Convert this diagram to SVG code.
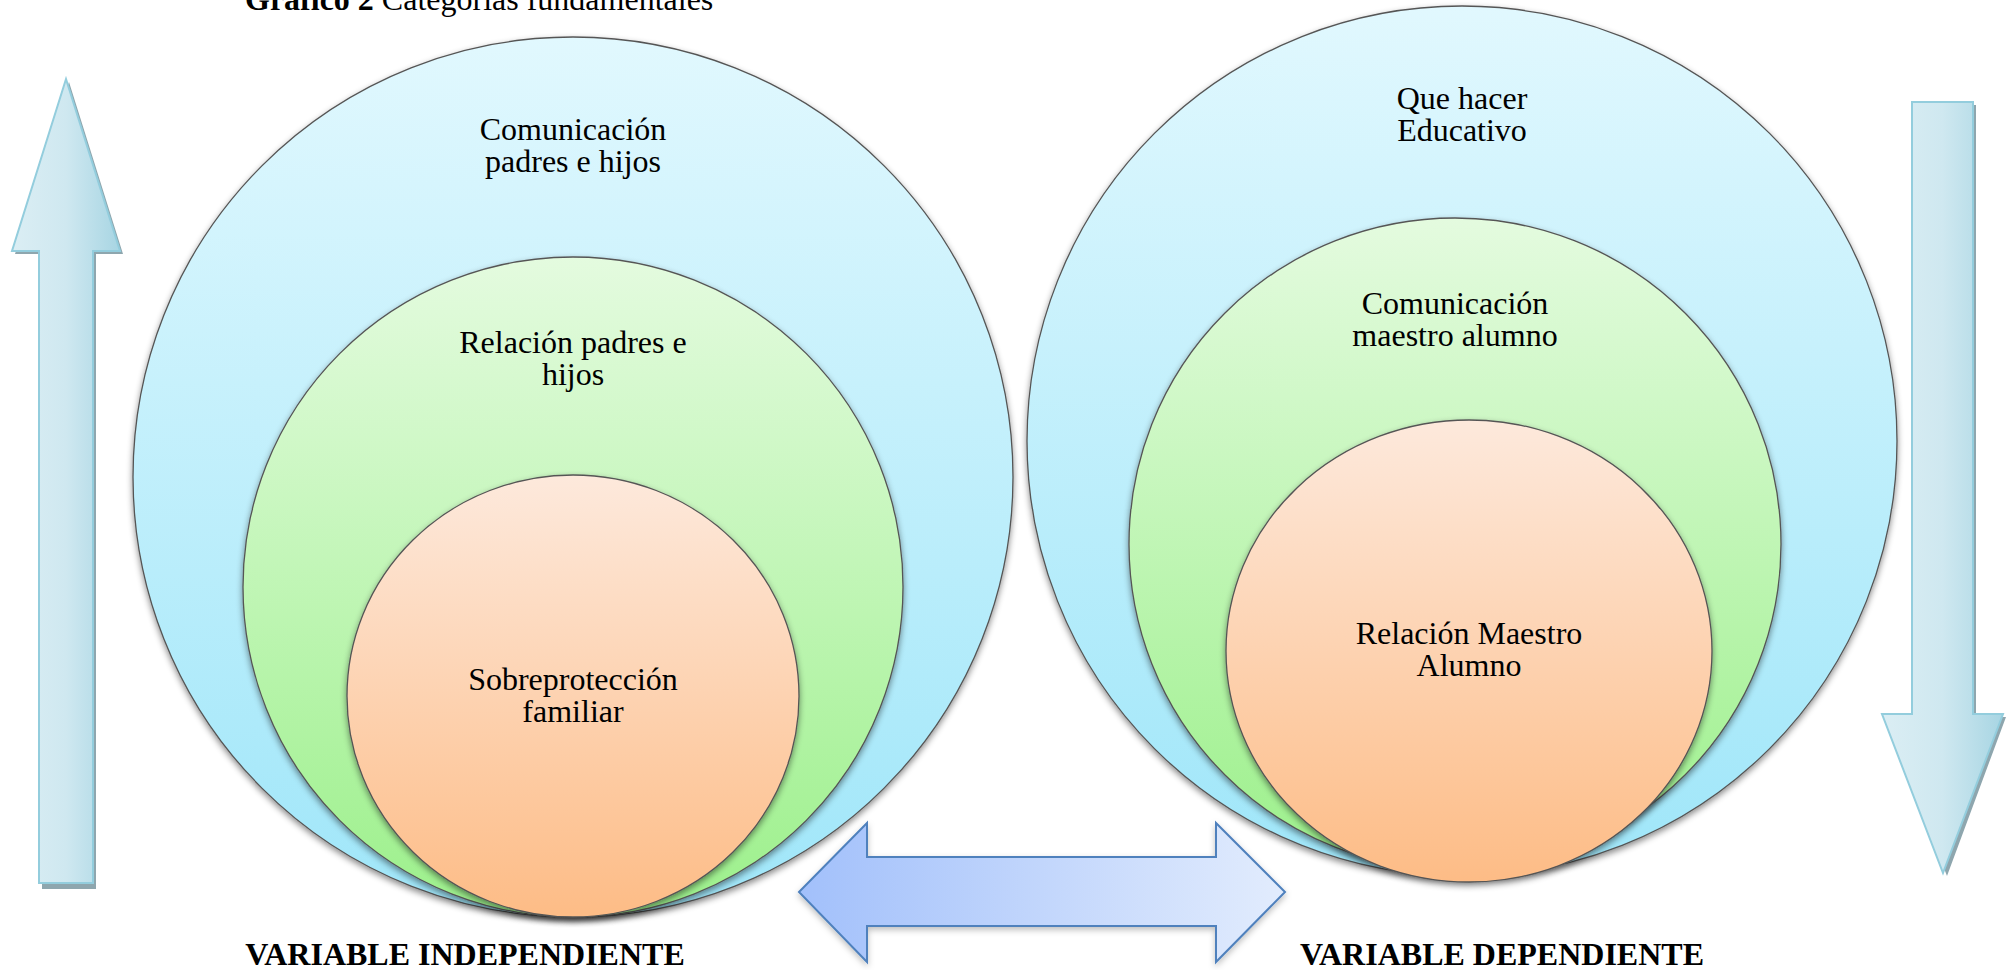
<svg xmlns="http://www.w3.org/2000/svg" width="2007" height="970" viewBox="0 0 2007 970">
<defs>
<linearGradient id="gBlue" x1="0" y1="0" x2="0" y2="1">
<stop offset="0" stop-color="#e1f8fe"/><stop offset="1" stop-color="#9fe6f9"/>
</linearGradient>
<linearGradient id="gGreen" x1="0" y1="0" x2="0" y2="1">
<stop offset="0" stop-color="#e4fbdf"/><stop offset="1" stop-color="#9cf08b"/>
</linearGradient>
<linearGradient id="gOrange" x1="0" y1="0" x2="0" y2="1">
<stop offset="0" stop-color="#fde9dc"/><stop offset="1" stop-color="#fdbc86"/>
</linearGradient>
<linearGradient id="gUp" x1="0" y1="0" x2="1" y2="0">
<stop offset="0" stop-color="#dbeef4"/><stop offset="0.5" stop-color="#cfe8f0"/><stop offset="1" stop-color="#a7d5e3"/>
</linearGradient>
<linearGradient id="gDown" x1="0" y1="0" x2="1" y2="0">
<stop offset="0" stop-color="#dbeef4"/><stop offset="0.5" stop-color="#cfe8f0"/><stop offset="1" stop-color="#a7d5e3"/>
</linearGradient>
<linearGradient id="gDouble" x1="0" y1="0" x2="1" y2="0">
<stop offset="0" stop-color="#a2c0fb"/><stop offset="1" stop-color="#e2ecfd"/>
</linearGradient>
<filter id="shadow" x="-10%" y="-10%" width="120%" height="125%">
<feDropShadow dx="0" dy="3" stdDeviation="3" flood-color="#000" flood-opacity="0.45"/>
</filter>
<filter id="softShadow" x="-10%" y="-10%" width="120%" height="130%">
<feDropShadow dx="0" dy="3" stdDeviation="3" flood-color="#000" flood-opacity="0.25"/>
</filter>
</defs>
<style>
.lbl{font-family:"Liberation Serif","Times New Roman",serif;font-size:32px;fill:#000;text-anchor:middle}
.var{font-family:"Liberation Serif","Times New Roman",serif;font-size:32px;font-weight:bold;fill:#000;text-anchor:middle}
.title{font-family:"Liberation Serif","Times New Roman",serif;font-size:32px;fill:#000}
.circ{stroke:#555;stroke-width:1.3;filter:url(#shadow)}
.side{stroke:#93cddd;stroke-width:2}
.sideShadow{fill:#8ea6ae}
</style>
<rect width="2007" height="970" fill="#fff"/>
<text class="title" x="245" y="10"><tspan font-weight="bold">Gráfico 2</tspan> Categorías fundamentales</text>

<g id="arrow-up">
<polygon class="sideShadow" points="69,82 123,254 96,254 96,889 42,889 42,254 15,254"/>
<polygon class="side" fill="url(#gUp)" points="66,79 120,251 93,251 93,883 39,883 39,251 12,251"/>
</g>
<g id="arrow-down">
<polygon class="sideShadow" points="1915,105 1976,105 1976,717 2006,717 1947,876 1885,717 1915,717"/>
<polygon class="side" fill="url(#gDown)" points="1912,102 1973,102 1973,714 2003,714 1943,873 1882,714 1912,714"/>
</g>

<g id="left-outer"><circle class="circ" cx="573" cy="477" r="440" fill="url(#gBlue)"/></g>
<g id="left-middle"><circle class="circ" cx="573" cy="587" r="330" fill="url(#gGreen)"/></g>
<g id="left-inner"><ellipse class="circ" cx="573" cy="696" rx="226" ry="221" fill="url(#gOrange)"/></g>

<g id="right-outer"><circle class="circ" cx="1462" cy="441" r="435" fill="url(#gBlue)"/></g>
<g id="right-middle"><circle class="circ" cx="1455" cy="544" r="326" fill="url(#gGreen)"/></g>
<g id="right-inner"><ellipse class="circ" cx="1469" cy="651" rx="243" ry="231" fill="url(#gOrange)"/></g>

<g id="connectors">
<polygon fill="url(#gDouble)" stroke="#4f81bd" stroke-width="2" filter="url(#softShadow)" points="799,892 867,823 867,857 1216,857 1216,823 1285,892 1216,962 1216,926 867,926 867,962"/>
</g>

<g id="labels">
<text class="lbl" x="573" y="140">Comunicación</text>
<text class="lbl" x="573" y="172">padres e hijos</text>
<text class="lbl" x="573" y="353">Relación padres e</text>
<text class="lbl" x="573" y="385">hijos</text>
<text class="lbl" x="573" y="690">Sobreprotección</text>
<text class="lbl" x="573" y="722">familiar</text>
<text class="lbl" x="1462" y="109">Que hacer</text>
<text class="lbl" x="1462" y="141">Educativo</text>
<text class="lbl" x="1455" y="314">Comunicación</text>
<text class="lbl" x="1455" y="346">maestro alumno</text>
<text class="lbl" x="1469" y="644">Relación Maestro</text>
<text class="lbl" x="1469" y="676">Alumno</text>
<text class="var" x="465" y="965">VARIABLE INDEPENDIENTE</text>
<text class="var" x="1502" y="965">VARIABLE DEPENDIENTE</text>
</g>
</svg>
